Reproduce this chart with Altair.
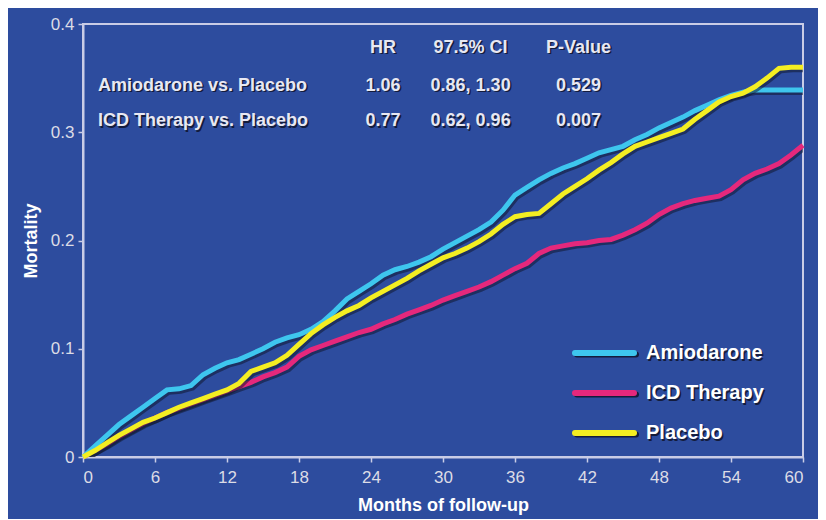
import altair as alt
import pandas as pd

months = list(range(0, 61))

amiodarone = [0.000, 0.010, 0.020, 0.030, 0.038, 0.046, 0.054, 0.062, 0.063, 0.066,
              0.076, 0.082, 0.087, 0.090, 0.095, 0.100, 0.106, 0.110, 0.113, 0.118,
              0.125, 0.135, 0.146, 0.153, 0.160, 0.168, 0.173, 0.176, 0.180, 0.185,
              0.192, 0.198, 0.204, 0.210, 0.217, 0.228, 0.242, 0.249, 0.256, 0.262,
              0.267, 0.271, 0.276, 0.281, 0.284, 0.287, 0.293, 0.298, 0.304, 0.309,
              0.314, 0.320, 0.325, 0.330, 0.334, 0.337, 0.339, 0.339, 0.339, 0.339,
              0.339]

icd = [0.000, 0.006, 0.012, 0.019, 0.025, 0.031, 0.036, 0.041, 0.045, 0.049,
       0.053, 0.057, 0.061, 0.065, 0.069, 0.074, 0.078, 0.083, 0.093, 0.099,
       0.103, 0.107, 0.111, 0.115, 0.118, 0.123, 0.127, 0.132, 0.136, 0.140,
       0.145, 0.149, 0.153, 0.157, 0.162, 0.168, 0.174, 0.179, 0.188, 0.193,
       0.195, 0.197, 0.198, 0.200, 0.201, 0.205, 0.210, 0.216, 0.224, 0.230,
       0.234, 0.237, 0.239, 0.241, 0.247, 0.256, 0.262, 0.266, 0.271, 0.279,
       0.288]

placebo = [0.000, 0.006, 0.013, 0.020, 0.026, 0.032, 0.036, 0.041, 0.046, 0.050,
           0.054, 0.058, 0.062, 0.068, 0.079, 0.083, 0.087, 0.094, 0.104, 0.114,
           0.122, 0.129, 0.135, 0.140, 0.147, 0.153, 0.159, 0.165, 0.172, 0.178,
           0.184, 0.188, 0.193, 0.199, 0.206, 0.215, 0.222, 0.224, 0.225, 0.234,
           0.243, 0.250, 0.257, 0.265, 0.272, 0.280, 0.287, 0.291, 0.295, 0.299,
           0.303, 0.312, 0.320, 0.328, 0.333, 0.336, 0.342, 0.350, 0.359, 0.360,
           0.360]

series_names = ["ICD Therapy", "Amiodarone", "Placebo"]   # draw order
series_colors = {"Amiodarone": "#3ec6ee", "ICD Therapy": "#e5287c", "Placebo": "#f4ee22"}
legend_order = ["Amiodarone", "ICD Therapy", "Placebo"]

x_ticks = list(range(0, 61, 6))
y_ticks = [0, 0.1, 0.2, 0.3, 0.4]

table_header = ["HR", "97.5% CI", "P-Value"]
table_rows = ["Amiodarone vs. Placebo", "ICD Therapy vs. Placebo"]
table_hr = ["1.06", "0.77"]
table_ci = ["0.86, 1.30", "0.62, 0.96"]
table_p = ["0.529", "0.007"]

BG = "#2d4c9e"
FRAME = "#c9cce6"
TXT = "#e8e8f2"
FONT = "Liberation Sans Narrow, Liberation Sans, Arial"

values = {"Amiodarone": amiodarone, "ICD Therapy": icd, "Placebo": placebo}
df = pd.DataFrame([
    {"series": s, "month": m, "mort": v}
    for s in series_names for m, v in zip(months, values[s])
])

xs = alt.Scale(domain=[0, 60], nice=False, zero=False)
ys = alt.Scale(domain=[0, 0.4], nice=False)

xaxis = alt.Axis(values=x_ticks, title="Months of follow-up", grid=False,
                 domainColor=FRAME, domainWidth=2, tickColor=FRAME, tickSize=5,
                 tickWidth=1.5, labelColor="#dcdce6", labelFont=FONT, labelFontSize=17,
                 labelPadding=7, titleColor="white", titleFont=FONT, titleFontSize=18,
                 titleFontWeight="bold", titlePadding=11)
yaxis = alt.Axis(values=y_ticks, title="Mortality", grid=False,
                 labelExpr="datum.value == 0 ? '0' : format(datum.value, '.1f')",
                 domainColor=FRAME, domainWidth=2, tickColor=FRAME, tickSize=5,
                 tickWidth=1.5, labelColor="#dcdce6", labelFont=FONT, labelFontSize=17,
                 labelPadding=4, titleColor="white", titleFont=FONT, titleFontSize=18,
                 titleFontWeight="bold", titlePadding=10)


def X(field):
    return alt.X(field, scale=xs, axis=xaxis)


def Y(field):
    return alt.Y(field, scale=ys, axis=yaxis)


layers = []
for s in series_names:
    sub = df[df.series == s]
    shadow = alt.Chart(sub).transform_calculate(
        sm="datum.month + 0.15", sy="datum.mort - 0.0022"
    ).mark_line(interpolate="linear", strokeWidth=5, color="#101830", opacity=0.55,
                clip=True).encode(x=X("sm:Q"), y=Y("sy:Q"))
    line = alt.Chart(sub).mark_line(interpolate="linear", strokeWidth=5,
                                    color=series_colors[s]).encode(
        x=X("month:Q"), y=Y("mort:Q"))
    layers += [shadow, line]

# Annotation table (data coordinates)
col_x = [25.0, 32.3, 41.3]
row_y = [0.343, 0.310]
header_y = 0.378
tbl = []
for h, cx in zip(table_header, col_x):
    tbl.append({"t": h, "m": cx, "v": header_y, "al": "center"})
for i, name in enumerate(table_rows):
    tbl.append({"t": name, "m": 1.25, "v": row_y[i], "al": "left"})
    tbl.append({"t": table_hr[i], "m": col_x[0], "v": row_y[i], "al": "center"})
    tbl.append({"t": table_ci[i], "m": col_x[1], "v": row_y[i], "al": "center"})
    tbl.append({"t": table_p[i], "m": col_x[2], "v": row_y[i], "al": "center"})
tdf = pd.DataFrame(tbl)
for al in ["left", "center"]:
    part = tdf[tdf.al == al]
    for dx, dy, col in [(1.5, 1.5, "#141c3c"), (0, 0, TXT)]:
        layers.append(alt.Chart(part).mark_text(
            align=al, baseline="middle", font=FONT, fontSize=18, fontWeight="bold",
            color=col, dx=dx, dy=dy).encode(
            x=X("m:Q"), y=Y("v:Q"), text="t:N"))

# Custom legend
leg_y = [329, 369, 409]
for name, ly in zip(legend_order, leg_y):
    layers.append(alt.Chart(pd.DataFrame({"n": [name]})).mark_rule(
        strokeWidth=6, strokeCap="round", color="#141c3c").encode(
        x=alt.value(494), x2=alt.value(553), y=alt.value(ly + 1.5)))
    layers.append(alt.Chart(pd.DataFrame({"n": [name]})).mark_rule(
        strokeWidth=6, strokeCap="round", color=series_colors[name]).encode(
        x=alt.value(492), x2=alt.value(551), y=alt.value(ly)))
    for dx, dy, col in [(1.5, 1.5, "#141c3c"), (0, 0, "white")]:
        layers.append(alt.Chart(pd.DataFrame({"n": [name]})).mark_text(
            align="left", baseline="middle", font=FONT, fontSize=20, fontWeight="bold",
            color=col, dx=dx, dy=dy).encode(
            x=alt.value(563), y=alt.value(ly), text="n:N"))

chart = alt.layer(*layers).properties(
    width=720, height=433,
    background=BG,
    padding={"left": 75, "top": 16, "right": 15, "bottom": 62},
    autosize=alt.AutoSizeParams(type="none"),
).configure_view(stroke=FRAME, strokeWidth=2, fill=BG)

chart.save("out.html", embed_options={"renderer": "svg", "actions": False})
